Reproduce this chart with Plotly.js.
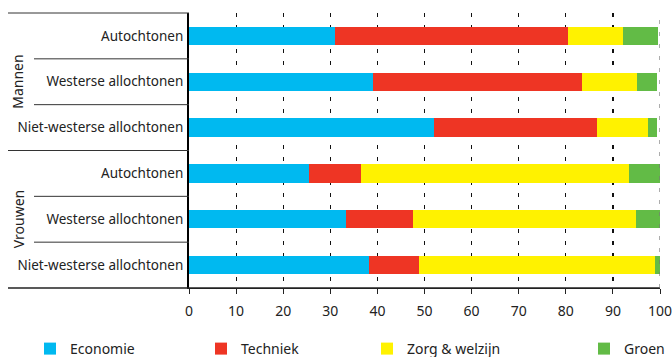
<!DOCTYPE html>
<html>
<head>
<meta charset="utf-8">
<script src="https://cdn.plot.ly/plotly-3.0.1.min.js"></script>
<style>
html,body{margin:0;padding:0;background:#fff;}
#chart{width:672px;height:357px;}
</style>
</head>
<body>
<div id="chart"></div>
<script>
// ---- data ----
var groups  = ["Mannen","Mannen","Mannen","Vrouwen","Vrouwen","Vrouwen"];
var origins = ["Autochtonen","Westerse allochtonen","Niet-westerse allochtonen",
               "Autochtonen","Westerse allochtonen","Niet-westerse allochtonen"];
var seriesNames = ["Economie","Techniek","Zorg & welzijn","Groen"];
var economie = [31.0, 39.0, 52.1, 25.5, 33.3, 38.3];
var techniek = [49.5, 44.4, 34.6, 11.0, 14.3, 10.5];
var zorg     = [11.6, 11.7, 10.8, 56.9, 47.2, 50.2];
var groen    = [ 7.5,  4.2,  1.8,  6.6,  5.1,  0.9];
var xTicks   = [0,10,20,30,40,50,60,70,80,90,100];

// ---- styling ----
var colors = ["#00b9f0","#ee3524","#fff200","#62bb46"];
var FONT = "'Noto Sans', sans-serif";
var TXT = "#222";

var cats = groups.map(function(g,i){ return g + "|" + origins[i]; });
var values = [economie, techniek, zorg, groen];
var legendIds = ["legend","legend2","legend3","legend4"];
var legendX = [30, 201, 367, 584]; // px in container

var traces = values.map(function(v,k){
  return {
    type:"bar", orientation:"h",
    x:v, y:cats, name:seriesNames[k],
    marker:{color:colors[k], line:{width:0}},
    legend:legendIds[k], hoverinfo:"x+name"
  };
});

// separators between rows and groups
var L = 189, W = 471; // px helpers for paper coords of left decorations
function px(p){ return (p - L) / W; }
var shapes = [];
for (var i = 0; i < cats.length - 1; i++) {
  var groupBreak = groups[i] !== groups[i+1];
  shapes.push({type:"line", xref:"paper", yref:"y",
    x0: groupBreak ? px(8) : px(34), x1:0, y0:i+0.5, y1:i+0.5,
    line:{color:"#333", width:1}});
}
shapes.push({type:"line", xref:"paper", yref:"paper", x0:px(8), x1:0, y0:1, y1:1, line:{color:"#333", width:1}});
shapes.push({type:"line", xref:"paper", yref:"paper", x0:px(8), x1:1, y0:0, y1:0, line:{color:"#222", width:1.3}});
// gridline at the last tick (Plotly omits grid at the range edge)
var lastTick = xTicks[xTicks.length-1];
shapes.push({type:"line", xref:"x", yref:"paper", x0:lastTick, x1:lastTick, y0:0, y1:1, layer:"above",
  line:{color:"#777", width:1.2, dash:"4px,8px"}});

// group labels
var uniqueGroups = groups.filter(function(g,i){ return groups.indexOf(g) === i; });
var annotations = uniqueGroups.map(function(g){
  var idx = groups.map(function(x,i){ return x===g ? i : -1; }).filter(function(i){ return i>=0; });
  var mid = (idx[0] + idx[idx.length-1]) / 2;
  return {text:g, xref:"paper", yref:"y", x:px(18), y:mid, textangle:-90,
          showarrow:false, xanchor:"center", yanchor:"middle",
          font:{family:FONT, size:14, color:TXT}};
});

var layout = {
  width:672, height:357,
  margin:{l:189, r:12, t:13, b:69, autoexpand:false},
  paper_bgcolor:"#fff", plot_bgcolor:"#fff",
  barmode:"stack", bargap:0.6,
  font:{family:FONT, size:14, color:TXT},
  xaxis:{
    range:[0,100], tickvals:xTicks, ticktext:xTicks.map(String),
    showgrid:true, gridcolor:"#111", gridwidth:1.2, griddash:"4px,8px",
    zeroline:false, showline:true, linecolor:"#222", linewidth:1.3,
    ticks:"outside", ticklen:5, tickcolor:"#222", tickwidth:1,
    ticklabelstandoff:5, automargin:false, ticklabeloverflow:"allow",
    tickfont:{family:FONT, size:14, color:TXT}, fixedrange:true
  },
  yaxis:{
    type:"category", categoryorder:"array", categoryarray:cats,
    autorange:"reversed", automargin:false,
    tickvals:cats, ticktext:origins,
    showgrid:false, zeroline:false, showline:true, linecolor:"#000", linewidth:2,
    ticks:"", ticklabelstandoff:1,
    tickfont:{family:FONT, size:13.5, color:TXT}, fixedrange:true
  },
  shapes:shapes,
  annotations:annotations,
  showlegend:true
};
legendIds.forEach(function(id,k){
  layout[id] = {orientation:"h", xref:"container", yref:"container",
    x:legendX[k]/672, xanchor:"left", y:1 - 349/357, yanchor:"middle",
    bgcolor:"rgba(0,0,0,0)", font:{family:FONT, size:14, color:TXT}};
});

Plotly.newPlot("chart", traces, layout, {displayModeBar:false, staticPlot:true});
</script>
</body>
</html>
